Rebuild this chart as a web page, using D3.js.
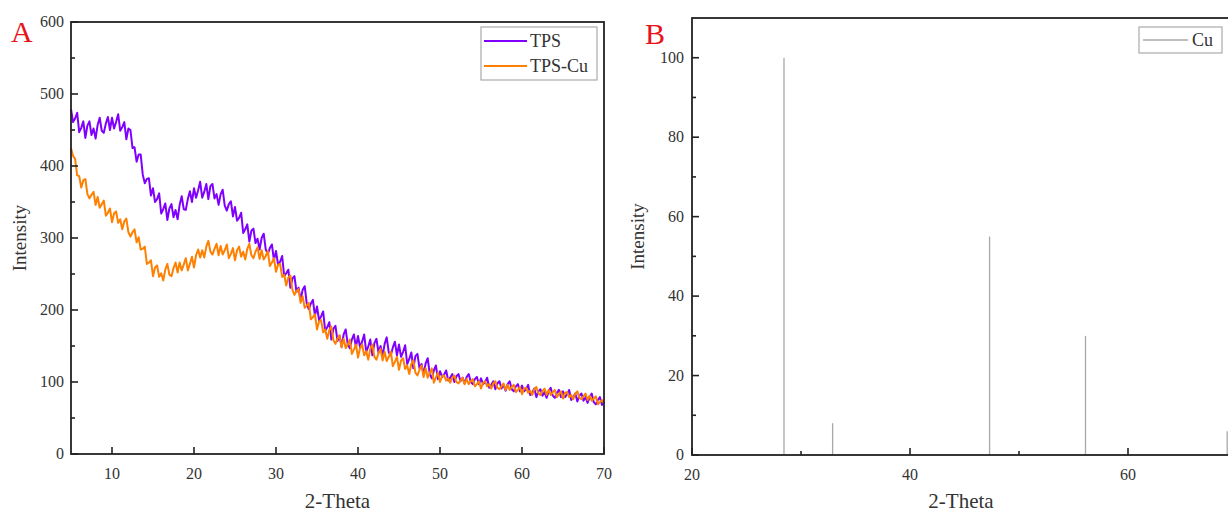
<!DOCTYPE html>
<html><head><meta charset="utf-8">
<script src="https://cdn.jsdelivr.net/npm/d3@7"></script>
<style>body{margin:0;background:#fff}svg{display:block}text{font-family:"Liberation Serif","Times New Roman",serif}</style>
</head><body><svg id="c" width="1228" height="514"></svg>
<script>
// ---- Data ----
const thetaStart = 5, thetaStep = 0.25;
const tps = [
479,461,466,474, 447,453,462,439, 456,462,443,452, 438,457,467,449, 446,459,468,450,
467,452,461,472, 449,454,461,437, 452,450,425,426, 406,416,416,388, 376,382,383,359,
369,350,354,362, 334,340,348,325, 341,347,329,339, 326,346,358,340, 339,354,365,350,
369,356,366,378, 356,364,375,354, 372,375,355,361, 346,361,367,345, 338,347,351,330,
343,324,328,335, 307,312,319,295, 310,313,293,299, 284,300,306,284, 278,286,291,269,
282,263,267,275, 247,251,256,231, 244,247,225,231, 214,228,233,209, 201,209,214,192,
205,186,191,198, 171,176,183,159, 174,178,157,164, 149,166,173,152, 147,159,166,148,
164,148,156,166, 142,149,159,137, 154,160,141,150, 136,153,162,141, 137,148,156,137,
152,135,142,151, 125,132,141,119, 136,139,119,125, 110,126,133,111, 105,116,123,104,
115,107,110,116, 102,106,111,100, 108,111,101,106, 98,107,111,100, 97,104,107,97,
105,97,100,106, 92,96,101,90, 98,101,91,96, 88,97,101,90, 87,94,97,87,
95,87,90,96, 82,85,91,79, 87,90,81,86, 78,87,92,81, 78,85,89,79,
87,79,83,89, 75,79,84,73, 81,84,74,79, 71,79,84,72, 69,75,79,68,
72];
const tpsCu = [
425,414,410,387, 386,370,380,382, 361,355,360,364, 346,357,342,347, 352,331,335,341,
322,334,337,321, 326,312,323,327, 308,302,308,312, 294,301,284,285, 288,264,266,269,
247,259,262,246, 251,241,256,264, 249,247,258,266, 252,266,255,263, 272,255,264,274,
259,276,284,273, 283,273,288,296, 281,277,285,292, 276,289,277,283, 291,272,278,286,
269,283,288,274, 281,270,285,292, 276,272,281,287, 271,283,270,275, 282,261,266,272,
253,263,264,246, 249,234,245,248, 228,221,226,229, 210,219,203,206, 210,187,190,194,
173,184,186,169, 173,160,172,177, 158,153,160,165, 148,160,147,152, 159,139,145,152,
134,147,152,137, 143,131,146,152, 135,131,140,146, 130,142,129,135, 142,122,128,135,
117,130,133,118, 123,111,125,130, 113,109,117,123, 107,119,106,112, 119,99,106,113,
100,108,109,102, 105,99,106,109, 100,98,102,106, 97,104,97,101, 104,94,97,101,
91,99,101,94, 97,91,98,101, 92,90,94,98, 89,96,89,93, 96,86,89,93,
83,91,92,85, 88,82,90,93, 84,82,87,91, 82,89,82,86, 89,79,83,87,
77,85,86,79, 82,76,84,87, 78,76,80,84, 75,81,74,77, 80,69,72,75,
71];
const cuPos = [28.44, 32.9, 47.3, 56.1, 69.1];
const cuInt = [100, 8, 55, 30, 6];
const xTicksA = [10,20,30,40,50,60,70];
const yTicksA = [0,100,200,300,400,500,600];
const yMinorA = [50,150,250,350,450,550];
const xTicksB = [20,40,60];
const xMinorB = [30,50,70];
const yTicksB = [0,20,40,60,80,100];
const yMinorB = [10,30,50,70,90];
const seriesNames = ["TPS","TPS-Cu"];
const seriesColors = ["#7f00ff","#ff8000"];

// ---- Drawing ----
const svg = d3.select("#c");
const axisCol = "#222", labCol = "#333";

function drawTicks(g, scale, ticks, len, orient, pos){
  ticks.forEach(t=>{
    const v = scale(t);
    if(orient==="x") g.append("line").attr("x1",v).attr("x2",v).attr("y1",pos).attr("y2",pos-len);
    else g.append("line").attr("y1",v).attr("y2",v).attr("x1",pos).attr("x2",pos+len);
  });
  g.selectAll("line").attr("stroke",axisCol).attr("stroke-width",1.6);
}

// Panel A
const xA = d3.scaleLinear().domain([5,70]).range([71,604]);
const yA = d3.scaleLinear().domain([0,600]).range([454,22]);
const gA = svg.append("g");
const thetaArr = tps.map((d,i)=>thetaStart+i*thetaStep);
const lineA = d3.line().x((d,i)=>xA(thetaArr[i])).y(d=>yA(d));
gA.append("path").datum(tps).attr("d",lineA).attr("fill","none").attr("stroke",seriesColors[0]).attr("stroke-width",2).attr("stroke-linejoin","round");
gA.append("path").datum(tpsCu).attr("d",lineA).attr("fill","none").attr("stroke",seriesColors[1]).attr("stroke-width",2).attr("stroke-linejoin","round");
gA.append("rect").attr("x",xA(5)).attr("y",yA(600)).attr("width",xA(70)-xA(5)).attr("height",yA(0)-yA(600))
  .attr("fill","none").attr("stroke",axisCol).attr("stroke-width",1.8);
drawTicks(gA.append("g"), xA, xTicksA, 7, "x", yA(0));
drawTicks(gA.append("g"), yA, yTicksA, 7, "y", xA(5));
drawTicks(gA.append("g"), yA, yMinorA, 4, "y", xA(5));
gA.append("g").selectAll("text").data(xTicksA).join("text").attr("x",d=>xA(d)).attr("y",yA(0)+25)
  .attr("text-anchor","middle").attr("font-size",16).attr("fill",labCol).text(d=>d);
gA.append("g").selectAll("text").data(yTicksA).join("text").attr("x",xA(5)-7).attr("y",d=>yA(d)+5)
  .attr("text-anchor","end").attr("font-size",16).attr("fill",labCol).text(d=>d);
gA.append("text").attr("x",(xA(5)+xA(70))/2).attr("y",508).attr("text-anchor","middle").attr("font-size",21).attr("fill",labCol).text("2-Theta");
gA.append("text").attr("transform",`translate(26,${(yA(0)+yA(600))/2}) rotate(-90)`).attr("text-anchor","middle").attr("font-size",19).attr("fill",labCol).text("Intensity");
gA.append("text").attr("x",11).attr("y",42).attr("font-size",30).attr("fill","#e8141c").text("A");
// legend A
const lgA = gA.append("g");
lgA.append("rect").attr("x",481).attr("y",27).attr("width",116).attr("height",53).attr("fill","#fff").attr("stroke","#aaa").attr("stroke-width",1.2);
seriesNames.forEach((n,i)=>{
  const yy = 41 + i*25;
  lgA.append("line").attr("x1",484).attr("x2",527).attr("y1",yy).attr("y2",yy).attr("stroke",seriesColors[i]).attr("stroke-width",1.8);
  lgA.append("text").attr("x",530).attr("y",yy+6).attr("font-size",18).attr("fill",labCol).text(n);
});

// Panel B
const xB = d3.scaleLinear().domain([20,70]).range([692,1237]);
const yB = d3.scaleLinear().domain([0,110]).range([455,18]);
const gB = svg.append("g");
gB.selectAll("line.peak").data(cuPos).join("line").attr("class","peak")
  .attr("x1",d=>xB(d)).attr("x2",d=>xB(d)).attr("y1",yB(0)).attr("y2",(d,i)=>yB(cuInt[i]))
  .attr("stroke","#a8a8a8").attr("stroke-width",1.3);
gB.append("rect").attr("x",xB(20)).attr("y",yB(110)).attr("width",xB(70)-xB(20)).attr("height",yB(0)-yB(110))
  .attr("fill","none").attr("stroke",axisCol).attr("stroke-width",1.8);
drawTicks(gB.append("g"), xB, xTicksB, 7, "x", yB(0));
drawTicks(gB.append("g"), xB, xMinorB, 4, "x", yB(0));
drawTicks(gB.append("g"), yB, yTicksB, 7, "y", xB(20));
drawTicks(gB.append("g"), yB, yMinorB, 4, "y", xB(20));
gB.append("g").selectAll("text").data(xTicksB).join("text").attr("x",d=>xB(d)).attr("y",yB(0)+25)
  .attr("text-anchor","middle").attr("font-size",16).attr("fill",labCol).text(d=>d);
gB.append("g").selectAll("text").data(yTicksB).join("text").attr("x",xB(20)-8).attr("y",d=>yB(d)+5)
  .attr("text-anchor","end").attr("font-size",16).attr("fill",labCol).text(d=>d);
gB.append("text").attr("x",961).attr("y",508).attr("text-anchor","middle").attr("font-size",21).attr("fill",labCol).text("2-Theta");
gB.append("text").attr("transform",`translate(644,${(yB(0)+yB(110))/2}) rotate(-90)`).attr("text-anchor","middle").attr("font-size",19).attr("fill",labCol).text("Intensity");
gB.append("text").attr("x",645).attr("y",44).attr("font-size",30).attr("fill","#e8141c").text("B");
const lgB = gB.append("g");
lgB.append("rect").attr("x",1139).attr("y",27).attr("width",83).attr("height",26).attr("fill","#fff").attr("stroke","#aaa").attr("stroke-width",1.2);
lgB.append("line").attr("x1",1143).attr("x2",1188).attr("y1",40).attr("y2",40).attr("stroke","#a8a8a8").attr("stroke-width",1.4);
lgB.append("text").attr("x",1192).attr("y",46).attr("font-size",18).attr("fill",labCol).text("Cu");
</script></body></html>
